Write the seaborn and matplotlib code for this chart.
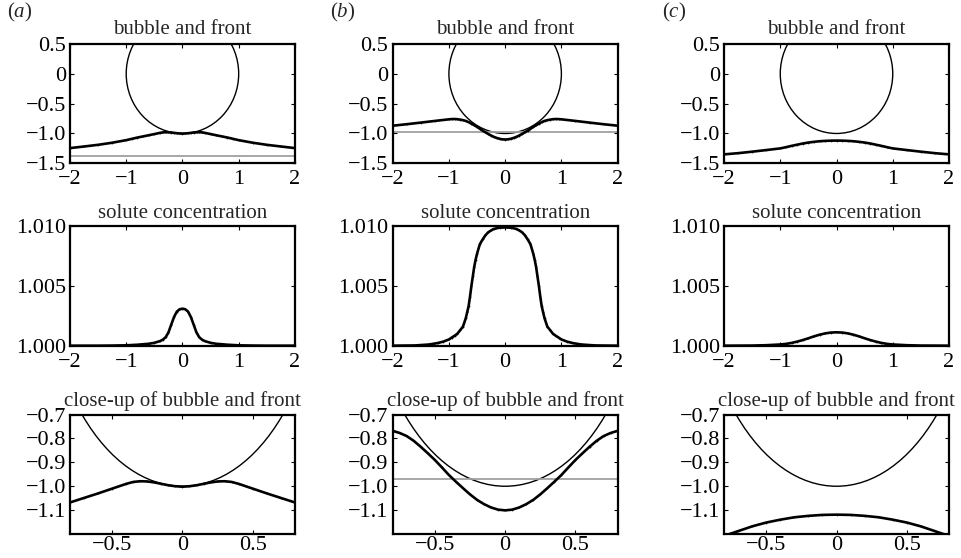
import matplotlib
matplotlib.use("Agg")
import matplotlib.pyplot as plt
from matplotlib.patches import Circle
import pandas as pd
import seaborn as sb

# bubble (unit circle) and interface positions
bubble_radius = 1.0
gray_levels = [-1.375, -0.97, None]

front_x_a = [-2, -1.75, -1.5, -1.25, -1, -0.9, -0.8, -0.7, -0.6, -0.5, -0.4, -0.35, -0.3, -0.25,
             -0.2, -0.15, -0.1, -0.05, 0, 0.05, 0.1, 0.15, 0.2, 0.25, 0.3, 0.35, 0.4, 0.5, 0.6,
             0.7, 0.8, 0.9, 1, 1.25, 1.5, 1.75, 2]
front_y_a = [-1.245, -1.218, -1.190, -1.155, -1.112, -1.090, -1.068, -1.049, -1.030, -1.010, -0.990,
             -0.982, -0.979, -0.980, -0.984, -0.990, -0.996, -1.000, -1.002, -1.000, -0.996, -0.990,
             -0.984, -0.980, -0.979, -0.982, -0.990, -1.010, -1.030, -1.049, -1.068, -1.090, -1.112,
             -1.155, -1.190, -1.218, -1.245]

front_x_b = [-2, -1.75, -1.5, -1.25, -1, -0.95, -0.9, -0.85, -0.8, -0.75, -0.7, -0.65, -0.6, -0.55,
             -0.5, -0.45, -0.4, -0.35, -0.3, -0.25, -0.2, -0.15, -0.1, -0.05, 0,
             0.05, 0.1, 0.15, 0.2, 0.25, 0.3, 0.35, 0.4, 0.45, 0.5, 0.55, 0.6, 0.65, 0.7, 0.75,
             0.8, 0.85, 0.9, 0.95, 1, 1.25, 1.5, 1.75, 2]
front_y_b = [-0.870, -0.845, -0.818, -0.790, -0.763, -0.759, -0.758, -0.761, -0.768, -0.777, -0.790,
             -0.810, -0.835, -0.862, -0.890, -0.921, -0.953, -0.981, -1.008, -1.034, -1.057,
             -1.075, -1.089, -1.098, -1.101,
             -1.098, -1.089, -1.075, -1.057, -1.034, -1.008, -0.981, -0.953, -0.921, -0.890,
             -0.862, -0.835, -0.810, -0.790, -0.777, -0.768, -0.761, -0.758, -0.759, -0.763,
             -0.790, -0.818, -0.845, -0.870]

front_x_c = [-2, -1.75, -1.5, -1.25, -1, -0.9, -0.8, -0.7, -0.6, -0.5, -0.4, -0.3, -0.2, -0.1, 0,
             0.1, 0.2, 0.3, 0.4, 0.5, 0.6, 0.7, 0.8, 0.9, 1, 1.25, 1.5, 1.75, 2]
front_y_c = [-1.350, -1.330, -1.305, -1.278, -1.250, -1.230, -1.208, -1.188, -1.168, -1.152, -1.140,
             -1.130, -1.124, -1.120, -1.119, -1.120, -1.124, -1.130, -1.140, -1.152, -1.168, -1.188,
             -1.208, -1.230, -1.250, -1.278, -1.305, -1.330, -1.350]

# solute concentration
conc_x_a = [-2, -1.5, -1.25, -1, -0.8, -0.6, -0.5, -0.4, -0.35, -0.3, -0.25, -0.2, -0.15, -0.1,
            -0.05, 0, 0.05, 0.1, 0.15, 0.2, 0.25, 0.3, 0.35, 0.4, 0.5, 0.6, 0.8, 1, 1.25, 1.5, 2]
conc_y_a = [1.0, 1.0, 1.00001, 1.00003, 1.00008, 1.00016, 1.00024, 1.00038, 1.00050, 1.00070,
            1.00110, 1.00175, 1.00240, 1.00285, 1.00305, 1.00310, 1.00305, 1.00285, 1.00240,
            1.00175, 1.00110, 1.00070, 1.00050, 1.00038, 1.00024, 1.00016, 1.00008, 1.00003,
            1.00001, 1.0, 1.0]

conc_x_b = [-2, -1.6, -1.35, -1.2, -1.1, -1.0, -0.95, -0.9, -0.85, -0.8, -0.75, -0.7, -0.675, -0.65,
            -0.625, -0.6, -0.575, -0.55, -0.525, -0.5, -0.45, -0.4, -0.35, -0.3, -0.25, -0.2,
            -0.1, 0, 0.1, 0.2, 0.25, 0.3, 0.35, 0.4, 0.45, 0.5, 0.525, 0.55, 0.575, 0.6, 0.625,
            0.65, 0.675, 0.7, 0.75, 0.8, 0.85, 0.9, 0.95, 1.0, 1.1, 1.2, 1.35, 1.6, 2]
conc_y_b = [1.0, 1.00002, 1.0001, 1.00022, 1.00034, 1.00052, 1.00068, 1.00083, 1.0010, 1.0013,
            1.0016, 1.0023, 1.0028, 1.0033, 1.0041, 1.0050, 1.0058, 1.0066, 1.0072, 1.0077,
            1.0085, 1.0089, 1.00925, 1.0095, 1.00965, 1.00978, 1.00988, 1.0099, 1.00988,
            1.00978, 1.00965, 1.0095, 1.00925, 1.0089, 1.0085, 1.0077, 1.0072, 1.0066, 1.0058,
            1.0050, 1.0041, 1.0033, 1.0028, 1.0023, 1.0016, 1.0013, 1.0010, 1.00083, 1.00068,
            1.00052, 1.00034, 1.00022, 1.0001, 1.00002, 1.0]

conc_x_c = [-2, -1.5, -1.25, -1, -0.9, -0.8, -0.7, -0.6, -0.5, -0.4, -0.3, -0.2, -0.1, 0, 0.1, 0.2,
            0.3, 0.4, 0.5, 0.6, 0.7, 0.8, 0.9, 1, 1.25, 1.5, 2]
conc_y_c = [1.0, 1.00001, 1.00004, 1.0001, 1.00015, 1.00023, 1.00034, 1.00047, 1.00062, 1.00078,
            1.00092, 1.00103, 1.00110, 1.00112, 1.00110, 1.00103, 1.00092, 1.00078, 1.00062,
            1.00047, 1.00034, 1.00023, 1.00015, 1.0001, 1.00004, 1.00001, 1.0]

panel_labels = ["a", "b", "c"]
fronts = [(front_x_a, front_y_a), (front_x_b, front_y_b), (front_x_c, front_y_c)]
concs = [(conc_x_a, conc_y_a), (conc_x_b, conc_y_b), (conc_x_c, conc_y_c)]

top_xticks = [-2, -1, 0, 1, 2]
top_xlabels = ["\u22122", "\u22121", "0", "1", "2"]
top_yticks = [0.5, 0, -0.5, -1.0, -1.5]
top_ylabels = ["0.5", "0", "\u22120.5", "\u22121.0", "\u22121.5"]
mid_yticks = [1.000, 1.005, 1.010]
mid_ylabels = ["1.000", "1.005", "1.010"]
bot_xticks = [-0.5, 0, 0.5]
bot_xlabels = ["\u22120.5", "0", "0.5"]
bot_yticks = [-0.7, -0.8, -0.9, -1.0, -1.1]
bot_ylabels = ["\u22120.7", "\u22120.8", "\u22120.9", "\u22121.0", "\u22121.1"]

sb.set_style("ticks")
plt.rcParams["font.family"] = ["Liberation Serif", "DejaVu Serif"]
plt.rcParams["mathtext.fontset"] = "custom"
plt.rcParams["mathtext.rm"] = "Liberation Serif"
plt.rcParams["mathtext.it"] = "Liberation Serif:italic"

fig = plt.figure(figsize=(9.61, 5.58), dpi=100)
lefts = [0.0728, 0.4086, 0.7534]
bottoms = [0.7073, 0.3805, 0.0430]
w, h = 0.2341, 0.2140


def style(ax, xpad=5):
    ax.tick_params(direction="in", top=True, right=True, length=3, width=0.8,
                   labelsize=16, colors="black")
    ax.tick_params(axis="x", pad=xpad)
    ax.tick_params(axis="y", pad=3)
    for s in ax.spines.values():
        s.set_linewidth(1.6)
        s.set_color("black")
    ax.set_xlabel("")
    ax.set_ylabel("")


def draw_curve(ax, xs, ys):
    df = pd.DataFrame({"x": xs, "y": ys})
    sb.lineplot(data=df, x="x", y="y", ax=ax, color="black", linewidth=1.9,
                marker=".", markersize=2.5, markeredgewidth=0, sort=False, estimator=None)


for i in range(3):
    fx, fy = fronts[i]
    cx, cy = concs[i]

    # top: bubble and front
    ax = fig.add_axes([lefts[i], bottoms[0], w, h])
    ax.add_patch(Circle((0, 0), bubble_radius, fill=False, color="black", lw=1.0))
    if gray_levels[i] is not None:
        ax.axhline(gray_levels[i], color="#a0a0a0", lw=1.3)
    draw_curve(ax, fx, fy)
    ax.set_xlim(-2, 2)
    ax.set_ylim(-1.5, 0.5)
    ax.set_xticks(top_xticks)
    ax.set_xticklabels(top_xlabels)
    ax.set_yticks(top_yticks)
    ax.set_yticklabels(top_ylabels)
    ax.set_title("bubble and front", fontsize=15, pad=7)
    style(ax)
    fig.text(lefts[i] - 0.065, 0.977, "($" + panel_labels[i] + "$)", fontsize=15,
             ha="left", va="center")

    # middle: solute concentration
    ax = fig.add_axes([lefts[i], bottoms[1], w, h])
    draw_curve(ax, cx, cy)
    ax.set_xlim(-2, 2)
    ax.set_ylim(1.0, 1.010)
    ax.set_xticks(top_xticks)
    ax.set_xticklabels(top_xlabels)
    ax.set_yticks(mid_yticks)
    ax.set_yticklabels(mid_ylabels)
    ax.set_title("solute concentration", fontsize=15, pad=6)
    style(ax)

    # bottom: close-up
    ax = fig.add_axes([lefts[i], bottoms[2], w, h])
    ax.add_patch(Circle((0, 0), bubble_radius, fill=False, color="black", lw=1.0))
    if gray_levels[i] is not None:
        ax.axhline(gray_levels[i], color="#a0a0a0", lw=1.3)
    draw_curve(ax, fx, fy)
    ax.set_xlim(-0.8, 0.8)
    ax.set_ylim(-1.2, -0.7)
    ax.set_xticks(bot_xticks)
    ax.set_xticklabels(bot_xlabels)
    ax.set_yticks(bot_yticks)
    ax.set_yticklabels(bot_ylabels)
    ax.set_title("close-up of bubble and front", fontsize=15, pad=6)
    style(ax, xpad=1.5)

fig.savefig("out.png", dpi=100)
